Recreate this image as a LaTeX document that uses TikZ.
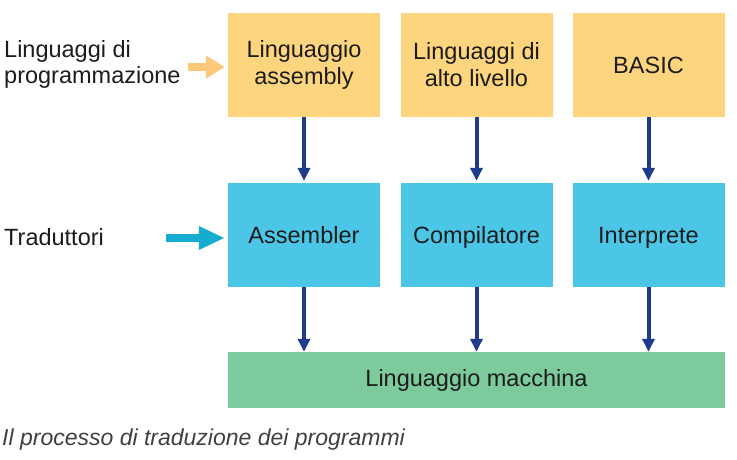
\documentclass[tikz,border=0pt]{standalone}
\usepackage{fontspec}
\setmainfont{Liberation Sans}
\usepackage{tikz}
\usetikzlibrary{arrows.meta,positioning}
\definecolor{boxyellow}{HTML}{FDD57E}
\definecolor{boxcyan}{HTML}{4CC6E6}
\definecolor{boxgreen}{HTML}{7DCB9C}
\definecolor{arrblue}{HTML}{1D3A8C}
\definecolor{arrorange}{HTML}{FCC978}
\definecolor{arrcyan}{HTML}{14ADD1}
\definecolor{txt}{HTML}{1C1C1C}
\begin{document}
\begin{tikzpicture}[x=1pt,y=-1pt,
  box/.style={minimum width=152pt,minimum height=104pt,inner sep=0pt,
    text=txt,font=\fontsize{23.5}{27}\selectfont},
  lang/.style={box,fill=boxyellow,align=center},
  trad/.style={box,fill=boxcyan,text height=19pt,text depth=3pt},
  mach/.style={box,fill=boxgreen,minimum width=497pt,minimum height=56pt},
  side/.style={inner sep=0pt,align=left,text=txt,font=\fontsize{23.5}{26}\selectfont},
  down/.style={arrblue,line width=4pt,-{Triangle[length=13pt,width=12pt]}},
  fat/.style={line width=8pt,-{Triangle[length=#1,width=22pt]}}]
  \useasboundingbox (0,0) rectangle (737,459);
  \node[lang] (asm) at (304,65) {Linguaggio\\assembly};
  \node[lang] (alto) at (476.5,65) {Linguaggi di\\alto livello};
  \node[lang] (basic) at (648.5,65) {BASIC};
  \node[trad] (assembler) at (304,235) {Assembler};
  \node[trad] (compilatore) at (476.5,235) {Compilatore};
  \node[trad] (interprete) at (648.5,235) {Interprete};
  \node[mach] (macchina) at (476.5,380) {Linguaggio macchina};
  \node[side,anchor=west] (linguaggi) at (4,64) {Linguaggi di\\programmazione};
  \node[side,anchor=west] (traduttori) at (4,237) {Traduttori};
  \foreach \a/\b in {asm/assembler,alto/compilatore,basic/interprete}{
    \draw[down] (\a.south) -- ([yshift=2pt]\b.north);
    \draw[down] (\b.south) -- (\b.south |- macchina.north);
  }
  \coordinate (ostart) at (188,67);
  \coordinate (cstart) at (166,238);
  \draw[fat=19pt,arrorange] (ostart) -- ([xshift=-3pt]ostart -| asm.west);
  \draw[fat=26pt,arrcyan] (cstart) -- ([xshift=-3pt]cstart -| assembler.west);
  \node[anchor=base west,inner sep=0pt,text=black!75,
    font=\fontsize{23}{26}\selectfont\itshape] (didascalia) at (2,445)
    {Il processo di traduzione dei programmi};
\end{tikzpicture}
\end{document}
